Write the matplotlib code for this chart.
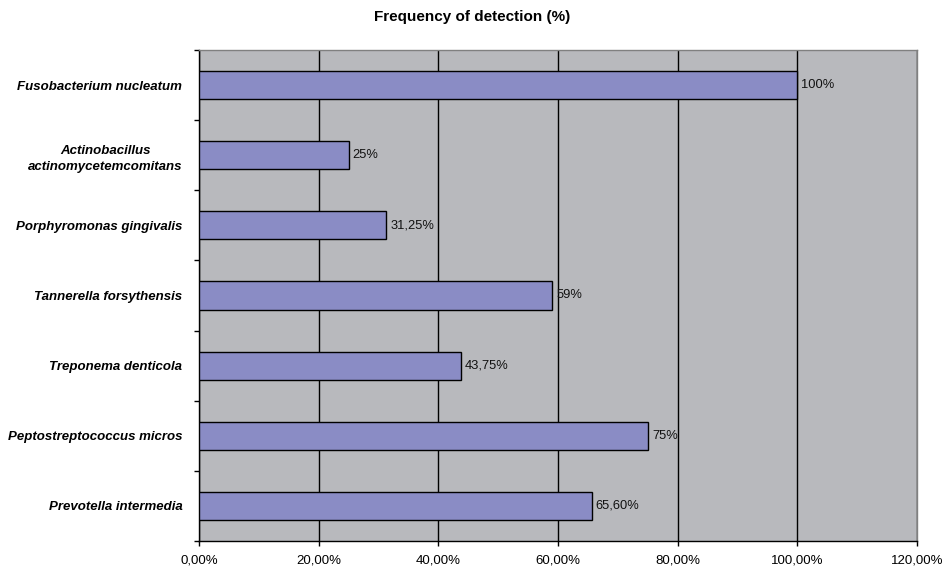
import numpy as np
import matplotlib
matplotlib.use('Agg')
import matplotlib.pyplot as plt
from matplotlib.ticker import FixedLocator

# bacteria and detection frequency (%)
species = ['Fusobacterium nucleatum',
           'Actinobacillus\nactinomycetemcomitans',
           'Porphyromonas gingivalis',
           'Tannerella forsythensis',
           'Treponema denticola',
           'Peptostreptococcus micros',
           'Prevotella intermedia']
freq = [100, 25, 31.25, 59, 43.75, 75, 65.6]
freq_labels = ['100%', '25%', '31,25%', '59%', '43,75%', '75%', '65,60%']
xticks = [0, 20, 40, 60, 80, 100, 120]
xtick_labels = ['0,00%', '20,00%', '40,00%', '60,00%', '80,00%', '100,00%', '120,00%']

plt.rcParams['font.family'] = ['Liberation Sans', 'DejaVu Sans']

fig = plt.figure(figsize=(9.44, 5.67), dpi=100)
ax = fig.add_axes([199/944, 1 - 541/567, (917 - 199)/944, (541 - 50)/567])
ax.set_facecolor('#b8b9bd')

y = np.arange(len(species))
ax.set_axisbelow(True)
ax.grid(axis='x', color='black', linewidth=1.0)
ax.barh(y, freq, height=0.4, color='#8a8cc5', edgecolor='black', linewidth=1.0, zorder=3)

for yi, v, lab in zip(y, freq, freq_labels):
    ax.annotate(lab, xy=(v, yi), xytext=(3, 0), textcoords='offset points',
                va='center', ha='left', fontsize=9.3, color='#111111', zorder=4)

ax.set_xlim(0, 120)
ax.set_ylim(len(species) - 0.5, -0.5)
ax.set_xticks(xticks)
ax.set_xticklabels(xtick_labels, fontsize=9.5)

ax.set_yticks(y)
ax.set_yticklabels(species, fontsize=9.5, fontweight='bold', fontstyle='italic',
                   multialignment='center', linespacing=1.45)
ax.tick_params(axis='y', which='major', length=0, pad=12)
ax.yaxis.set_minor_locator(FixedLocator(np.arange(-0.5, len(species), 1)))
ax.tick_params(axis='y', which='minor', length=3.5, width=1, direction='out')
ax.tick_params(axis='x', length=3.5, width=1, direction='out', pad=6)

for s in ['left', 'bottom']:
    ax.spines[s].set_color('black')
    ax.spines[s].set_linewidth(1.0)
for s in ['top', 'right']:
    ax.spines[s].set_color('#808080')
    ax.spines[s].set_linewidth(1.0)

fig.text(0.5, 1 - 17/567, 'Frequency of detection (%)', ha='center', va='center',
         fontsize=11, fontweight='bold')

fig.savefig('out.png', dpi=100, facecolor='white')
